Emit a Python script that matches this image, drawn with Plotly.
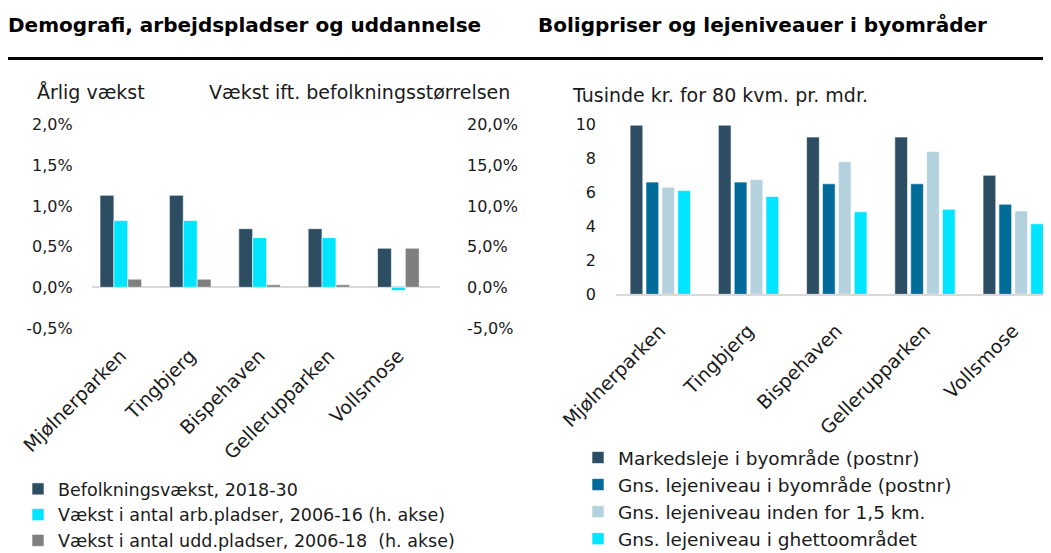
import plotly.graph_objects as go

# Data #
omraader = ["Mjølnerparken", "Tingbjerg", "Bispehaven", "Gellerupparken", "Vollsmose"]

# venstre figur (andele)
befolkningsvaekst = [0.0113, 0.0113, 0.0072, 0.0072, 0.0048]
vaekst_arbpladser = [0.082, 0.082, 0.061, 0.061, -0.004]
vaekst_uddpladser = [0.010, 0.010, 0.003, 0.003, 0.048]

# akse-etiketter (venstre figur), med almindelig bindestreg som minus
venstre_ticks = [-0.005, 0.0, 0.005, 0.010, 0.015, 0.020]
venstre_labels = ["-0,5%", "0,0%", "0,5%", "1,0%", "1,5%", "2,0%"]
hoejre_ticks = [-0.05, 0.0, 0.05, 0.10, 0.15, 0.20]
hoejre_labels = ["-5,0%", "0,0%", "5,0%", "10,0%", "15,0%", "20,0%"]

# hoejre figur (tusinde kr.)
markedsleje = [9.95, 9.95, 9.25, 9.25, 7.0]
leje_byomraade = [6.6, 6.6, 6.5, 6.5, 5.3]
leje_15km = [6.3, 6.75, 7.8, 8.4, 4.9]
leje_ghetto = [6.1, 5.75, 4.85, 5.0, 4.15]

# the page body keeps its 8px margin, so the figure is 8px smaller than the window
OFF = 8
W, H = 1051 - OFF, 553 - OFF
FONT = "DejaVu Sans"
DARK = "#2C4D62"
CYAN = "#00E5FF"
GREY = "#7F7F7F"
BLUE = "#006A99"
LIGHT = "#B4D2DD"


def px(x):
    return (x - OFF) / W


def py(y):
    return 1 - (y - OFF) / H


fig = go.Figure()

# Left chart #
left_bars = [
    (befolkningsvaekst, "Befolkningsvækst, 2018-30", DARK, "y", -0.3),
    (vaekst_arbpladser, "Vækst i antal arb.pladser, 2006-16 (h. akse)", CYAN, "y2", -0.1),
    (vaekst_uddpladser, "Vækst i antal udd.pladser, 2006-18  (h. akse)", GREY, "y2", 0.1),
]
for vals, name, color, yax, off in left_bars:
    fig.add_trace(go.Bar(x=omraader, y=vals, name=name, xaxis="x", yaxis=yax,
                         width=0.2, offset=off,
                         marker=dict(color=color, line=dict(color="white", width=0.6)),
                         legend="legend"))

# Right chart #
right_bars = [
    (markedsleje, "Markedsleje i byområde (postnr)", DARK, -0.34),
    (leje_byomraade, "Gns. lejeniveau i byområde (postnr)", BLUE, -0.16),
    (leje_15km, "Gns. lejeniveau inden for 1,5 km.", LIGHT, 0.02),
    (leje_ghetto, "Gns. lejeniveau i ghettoområdet", CYAN, 0.20),
]
for vals, name, color, off in right_bars:
    fig.add_trace(go.Bar(x=omraader, y=vals, name=name, xaxis="x3", yaxis="y3",
                         width=0.144, offset=off,
                         marker=dict(color=color, line=dict(color="white", width=0.6)),
                         legend="legend2"))

tickfont = dict(family=FONT, size=16, color="#1a1a1a")
catfont = dict(family=FONT, size=19, color="#1a1a1a")
capfont = dict(family=FONT, size=19, color="#1a1a1a")

fig.update_layout(
    width=W, height=H,
    margin=dict(l=0, r=0, t=0, b=0, autoexpand=False),
    paper_bgcolor="white", plot_bgcolor="white",
    barmode="overlay",
    separators=",.",
    font=dict(family=FONT, color="#1a1a1a"),
    xaxis=dict(domain=[px(91.7), px(440)], range=[-0.42, 4.6], tickangle=-45,
               tickfont=catfont, showline=False, showgrid=False, ticks="",
               ticklabelstandoff=12, anchor="y", automargin=False),
    yaxis=dict(domain=[py(328), py(124.5)], range=[-0.005, 0.02],
               tickvals=venstre_ticks, ticktext=venstre_labels,
               tickfont=tickfont, showgrid=False,
               zeroline=True, zerolinecolor="#D9D9D9", zerolinewidth=2,
               ticklabelstandoff=18, anchor="x", automargin=False),
    yaxis2=dict(overlaying="y", side="right", range=[-0.05, 0.2],
                tickvals=hoejre_ticks, ticktext=hoejre_labels,
                tickfont=tickfont, showgrid=False, zeroline=False,
                ticklabelstandoff=26, anchor="x", automargin=False),
    xaxis3=dict(domain=[px(616), 1.0], range=[-0.5, 4.43], tickangle=-45,
                tickfont=catfont, showline=True, linecolor="#D9D9D9", linewidth=2,
                showgrid=False, ticks="", ticklabelstandoff=16, anchor="y3",
                automargin=False),
    yaxis3=dict(domain=[py(294.3), py(124.3)], range=[0, 10], dtick=2,
                tickfont=tickfont, showgrid=False, zeroline=False,
                ticklabelstandoff=19, anchor="x3", automargin=False),
    legend=dict(x=px(18), y=py(471), xanchor="left", yanchor="top",
                font=dict(family=FONT, size=17.5), bgcolor="rgba(0,0,0,0)",
                traceorder="normal"),
    legend2=dict(x=px(578), y=py(439), xanchor="left", yanchor="top",
                 font=dict(family=FONT, size=18.5), bgcolor="rgba(0,0,0,0)",
                 traceorder="normal"),
)

# Titles and axis captions #
titlefont = dict(family=FONT, size=20, color="black")
fig.add_annotation(text="<b>Demografi, arbejdspladser og uddannelse</b>", x=px(6), y=py(25),
                   xref="paper", yref="paper", xanchor="left", yanchor="middle", showarrow=False,
                   font=titlefont)
fig.add_annotation(text="<b>Boligpriser og lejeniveauer i byområder</b>", x=px(536), y=py(25),
                   xref="paper", yref="paper", xanchor="left", yanchor="middle", showarrow=False,
                   font=titlefont)
fig.add_annotation(text="Årlig vækst", x=px(35), y=py(92), xref="paper", yref="paper",
                   xanchor="left", yanchor="middle", showarrow=False, font=capfont)
fig.add_annotation(text="Vækst ift. befolkningsstørrelsen", x=px(512), y=py(92), xref="paper",
                   yref="paper", xanchor="right", yanchor="middle", showarrow=False, font=capfont)
fig.add_annotation(text="Tusinde kr. for 80 kvm. pr. mdr.", x=px(570), y=py(95), xref="paper",
                   yref="paper", xanchor="left", yanchor="middle", showarrow=False, font=capfont)

# Black rule under the titles #
fig.add_shape(type="line", xref="paper", yref="paper", x0=px(8), x1=1.0, y0=py(58.5), y1=py(58.5),
              line=dict(color="black", width=3))

fig.write_html("out.html")
